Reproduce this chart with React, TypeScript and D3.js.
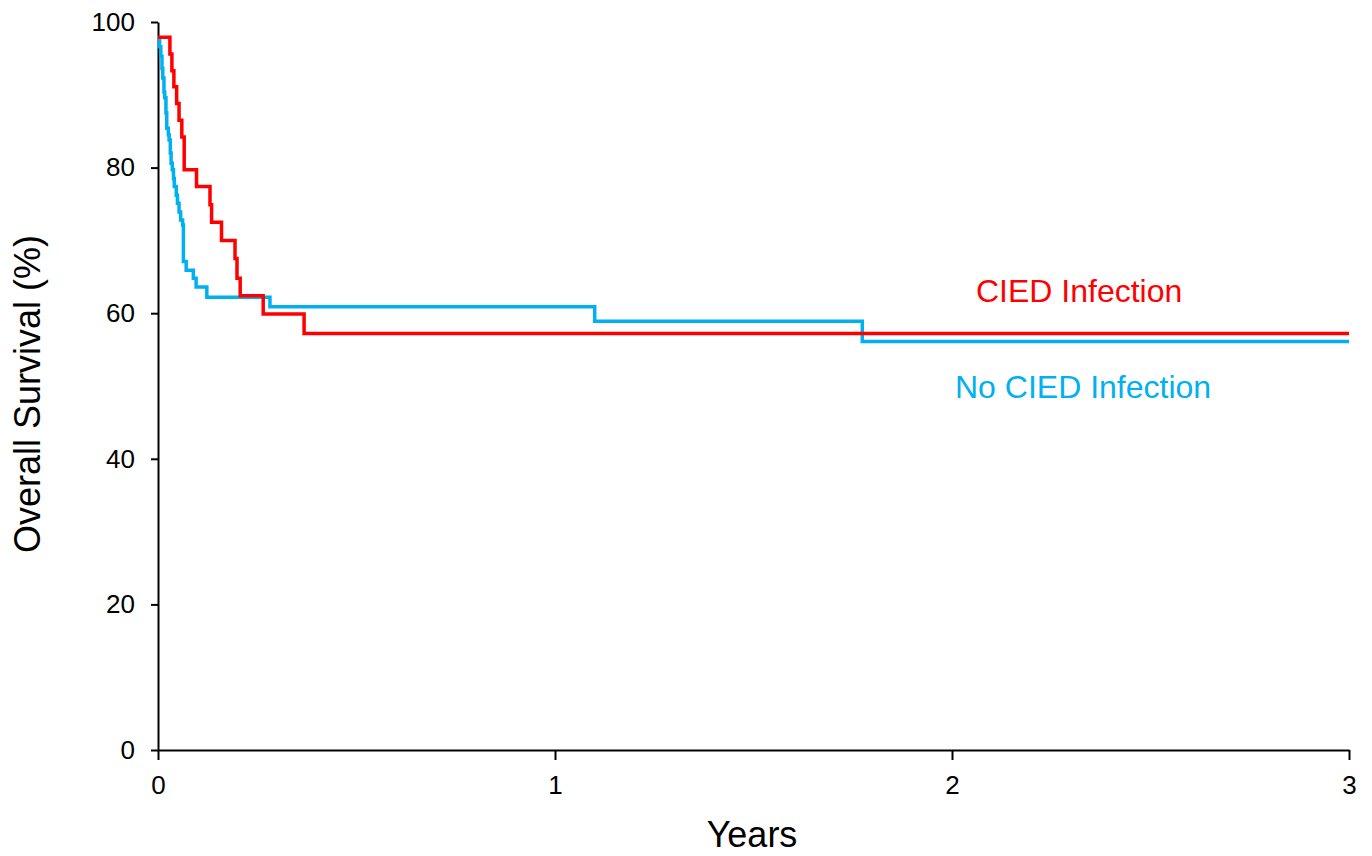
import React, { useEffect, useRef } from "react";
import * as d3 from "d3";

// Kaplan-Meier steps: [years, survival % after the step]
const ciedInfection: [number, number][] = [
  [0, 97.9],
  [0.03, 95.6],
  [0.035, 93.3],
  [0.04, 91.1],
  [0.047, 88.8],
  [0.053, 86.5],
  [0.06, 84.2],
  [0.066, 79.7],
  [0.097, 77.4],
  [0.131, 74.9],
  [0.135, 72.5],
  [0.16, 70.0],
  [0.194, 67.5],
  [0.199, 64.8],
  [0.207, 62.4],
  [0.265, 59.9],
  [0.368, 57.2],
  [3, 57.2],
];

const noCiedInfection: [number, number][] = [
  [0, 97.8],
  [0.004, 96.6],
  [0.007, 95.3],
  [0.01, 93.6],
  [0.012, 92.3],
  [0.015, 90.4],
  [0.017, 89.6],
  [0.02, 87.5],
  [0.022, 85.4],
  [0.026, 84.5],
  [0.028, 83.8],
  [0.031, 82.0],
  [0.033, 80.6],
  [0.036, 79.7],
  [0.039, 78.5],
  [0.041, 77.4],
  [0.046, 76.2],
  [0.049, 75.1],
  [0.053, 73.9],
  [0.057, 72.8],
  [0.062, 72.1],
  [0.064, 67.1],
  [0.071, 65.9],
  [0.089, 64.8],
  [0.096, 63.6],
  [0.123, 62.2],
  [0.282, 60.9],
  [1.1, 58.9],
  [1.774, 56.1],
  [3, 56.1],
];

const xTicks = [0, 1, 2, 3];
const yTicks = [0, 20, 40, 60, 80, 100];

const FONT = "'Liberation Sans', Arial, sans-serif";

const App = () => {
  const ref = useRef<SVGSVGElement>(null);

  useEffect(() => {
    const svg = d3.select(ref.current);
    svg.selectAll("*").remove();

    const x = d3.scaleLinear().domain([0, 3]).range([158, 1349]);
    const y = d3.scaleLinear().domain([0, 100]).range([750, 22]);

    const yAxis = svg
      .append("g")
      .attr("transform", "translate(158,0)")
      .call(d3.axisLeft(y).tickValues(yTicks).tickSize(7).tickSizeOuter(0).tickPadding(16));

    const xAxis = svg
      .append("g")
      .attr("transform", "translate(0,750)")
      .call(
        d3
          .axisBottom(x)
          .tickValues(xTicks)
          .tickFormat(d3.format("d"))
          .tickSize(10)
          .tickSizeOuter(0)
          .tickPadding(16)
      );

    [yAxis, xAxis].forEach((g) => {
      g.select(".domain").attr("stroke", "#000").attr("stroke-width", 2);
      g.selectAll(".tick line").attr("stroke", "#000").attr("stroke-width", 2);
      g.selectAll(".tick text")
        .attr("fill", "#000")
        .style("font-family", FONT)
        .style("font-size", "26px");
    });

    const line = d3
      .line<[number, number]>()
      .x((d) => x(d[0]))
      .y((d) => y(d[1]))
      .curve(d3.curveStepAfter);

    svg
      .append("path")
      .datum(noCiedInfection)
      .attr("d", line)
      .attr("fill", "none")
      .attr("stroke", "#00B0F0")
      .attr("stroke-width", 3.5);

    svg
      .append("path")
      .datum(ciedInfection)
      .attr("d", line)
      .attr("fill", "none")
      .attr("stroke", "#FF0000")
      .attr("stroke-width", 3.5);

    svg
      .append("text")
      .attr("x", 976)
      .attr("y", 302)
      .attr("fill", "#FF0000")
      .style("font-family", FONT)
      .style("font-size", "32px")
      .text("CIED Infection");

    svg
      .append("text")
      .attr("x", 955)
      .attr("y", 398)
      .attr("fill", "#00B0F0")
      .style("font-family", FONT)
      .style("font-size", "32px")
      .text("No CIED Infection");

    svg
      .append("text")
      .attr("x", 752)
      .attr("y", 847)
      .attr("text-anchor", "middle")
      .style("font-family", FONT)
      .style("font-size", "36px")
      .text("Years");

    svg
      .append("text")
      .attr("transform", "translate(40,394) rotate(-90)")
      .attr("text-anchor", "middle")
      .style("font-family", FONT)
      .style("font-size", "36px")
      .text("Overall Survival (%)");
  }, []);

  return (
    <svg
      ref={ref}
      width={1372}
      height={856}
      style={{ position: "absolute", left: 0, top: 0, background: "#fff" }}
    />
  );
};

export default App;
